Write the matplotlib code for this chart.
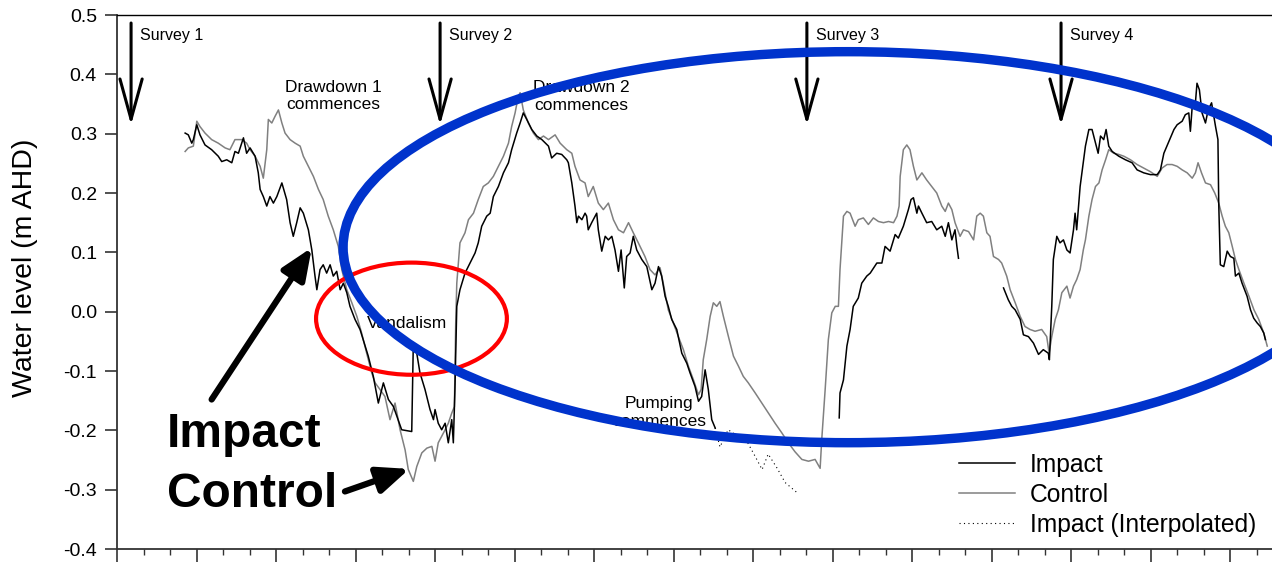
import numpy as np
import matplotlib
matplotlib.use("Agg")
import matplotlib.pyplot as plt
from matplotlib.patches import Ellipse
from matplotlib.ticker import MultipleLocator, FixedLocator, FixedFormatter

plt.rcParams['font.family'] = ['Liberation Sans', 'DejaVu Sans']

nan = float('nan')

# Impact bore (m AHD), days since start of record; NaN marks logger gaps
impact_day = [
    25.7, 26.9, 28.2, 28.8, 30.1, 31.3, 33.2, 35.7, 38.2, 39.5, 41.4, 43.3, 44.5, 45.8,
    47.7, 48.9, 50.2, 52.1, 53.3, 54.0, 55.2, 56.5, 57.7, 59.0, 60.3, 62.2, 64.0, 65.3,
    66.5, 67.8, 69.1, 70.3, 72.2, 73.5, 74.7, 75.4, 76.6, 77.8, 79.1, 80.4, 81.6, 82.9,
    84.2, 85.4, 86.7, 87.9, 89.8, 91.7, 94.8, 96.7, 98.6, 100.5, 102.4, 104.3, 107.4,
    111.2, 111.8, 113.1, 114.3, 116.2, 118.1, 119.4, 120.0, 121.2, 122.5, 123.8, 125.0,
    126.3, 126.9, 127.5, 128.2, 129.4, 131.3, 133.2, 135.1, 136.3, 137.6, 139.5, 140.8,
    142.0, 143.9, 145.8, 147.7, 148.9, 150.8, 152.1, 153.3, 154.6, 156.5, 158.4, 160.3,
    162.8, 164.0, 165.9, 167.8, 169.7, 170.3, 171.6, 172.8, 173.5, 174.1, 175.4, 176.6,
    177.2, 177.8, 179.1, 180.4, 181.0, 181.6, 182.9, 184.2, 185.4, 186.7, 187.9, 189.2,
    190.2, 191.4, 192.3, 193.6, 194.8, 196.1, 198.0, 199.9, 201.8, 203.0, 204.3, 205.5,
    206.8, 208.0, 209.3, 211.2, 213.1, 215.0, 216.2, 218.1, 219.4, 220.6, 221.9, 223.1,
    224.4, 225.7, nan,
    272.5, 272.8, 274.1, 275.4, 276.6, 277.8, 279.7, 281.0, 282.9, 284.2, 286.7, 288.6,
    289.8, 291.7, 293.6, 294.8, 296.7, 298.6, 299.6, 300.5, 301.8, 302.4, 303.7, 305.5,
    307.4, 309.3, 311.2, 312.5, 313.7, 315.0, 316.2, 316.9, 317.5, nan,
    334.5, 336.3, 337.6, 338.9, 340.8, 342.0, 343.9, 345.8, 347.7, 349.5, 351.4, 351.8,
    352.7, 353.3, 354.6, 355.8, 357.1, 358.4, 359.6, 360.9, 361.5, 362.1, 363.4, 364.6,
    365.4, 366.7, 367.9, 369.2, 370.2, 371.1, 372.3, 373.2, 374.2, 375.5, 378.0, 380.5,
    383.0, 384.9, 387.4, 389.9, 392.5, 393.7, 395.0, 396.9, 398.8, 400.0, 401.9, 403.1,
    404.4, 405.0, 405.7, 406.9, 407.5, 408.4, 409.4, 410.7, 411.7, 413.0, 414.5, 415.4,
    415.7, 416.3, 417.6, 418.9, 420.1, 421.4, 422.0, 423.3, 424.5, 426.4, 427.7, 428.9,
    430.2, 431.4, 432.7, 433.3,
]
impact_level = [
    0.301, 0.298, 0.284, 0.290, 0.315, 0.298, 0.281, 0.273, 0.262, 0.253, 0.256, 0.251, 0.270, 0.267,
    0.293, 0.267, 0.276, 0.262, 0.234, 0.206, 0.194, 0.178, 0.194, 0.183, 0.194, 0.217, 0.189, 0.150,
    0.127, 0.150, 0.175, 0.166, 0.138, 0.104, 0.060, 0.037, 0.071, 0.079, 0.065, 0.079, 0.060, 0.068,
    0.037, 0.048, 0.032, 0.009, -0.013, -0.030, -0.075, -0.109, -0.154, -0.120, -0.148, -0.160, -0.199,
    -0.202, -0.053, -0.070, -0.103, -0.131, -0.165, -0.182, -0.165, -0.188, -0.199, -0.188, -0.221,
    -0.182, -0.221, -0.131, 0.009, 0.037, 0.065, 0.082, 0.099, 0.116, 0.144, 0.161, 0.166,
    0.194, 0.211, 0.234, 0.251, 0.273, 0.301, 0.318, 0.335, 0.324, 0.307, 0.296, 0.290,
    0.279, 0.259, 0.267, 0.265, 0.256, 0.251, 0.217, 0.178, 0.150, 0.161, 0.155, 0.166,
    0.161, 0.138, 0.150, 0.161, 0.166, 0.138, 0.102, 0.127, 0.121, 0.127, 0.104, 0.068,
    0.104, 0.040, 0.093, 0.099, 0.127, 0.104, 0.088, 0.076, 0.037, 0.048, 0.076, 0.060,
    0.026, 0.009, -0.013, -0.030, -0.070, -0.087, -0.103, -0.126, -0.151, -0.143, -0.098, -0.131,
    -0.182, -0.196, nan,
    -0.179, -0.137, -0.115, -0.058, -0.030, 0.009, 0.023, 0.048, 0.060, 0.065, 0.082, 0.082,
    0.110, 0.102, 0.130, 0.124, 0.144, 0.172, 0.189, 0.192, 0.166, 0.178, 0.166, 0.150,
    0.152, 0.138, 0.144, 0.127, 0.150, 0.121, 0.138, 0.110, 0.090, nan,
    0.040, 0.020, 0.009, 0.003, -0.013, -0.039, -0.042, -0.053, -0.072, -0.064, -0.070, -0.081,
    0.009, 0.088, 0.127, 0.116, 0.121, 0.104, 0.099, 0.138, 0.166, 0.138, 0.211, 0.251,
    0.279, 0.307, 0.307, 0.284, 0.267, 0.296, 0.290, 0.307, 0.279, 0.270, 0.262, 0.256,
    0.251, 0.239, 0.234, 0.231, 0.231, 0.239, 0.267, 0.287, 0.307, 0.315, 0.321, 0.332,
    0.335, 0.304, 0.346, 0.352, 0.385, 0.374, 0.335, 0.318, 0.340, 0.352, 0.312, 0.290,
    0.183, 0.079, 0.076, 0.102, 0.093, 0.090, 0.060, 0.065, 0.048, 0.026, 0.003, -0.011,
    -0.019, -0.025, -0.036, -0.047,
]

# Impact bore infilled while the logger was out
interp_day = [225.7, 227.5, 230.6, 234.3, 238.1, 240.8, 243.4, 245.7, 249.1, 252.1, 256.6]
interp_level = [-0.196, -0.228, -0.199, -0.210, -0.222, -0.244, -0.266, -0.240, -0.264, -0.288, -0.305]

# Control bore (m AHD)
control_day = [
    25.7, 26.9, 28.8, 30.1, 31.3, 33.2, 35.7, 38.2, 40.8, 42.6, 44.5, 47.1, 48.9, 50.2,
    52.1, 54.0, 55.2, 56.5, 57.1, 58.4, 59.6, 60.9, 62.2, 63.4, 65.3, 67.2, 69.1, 70.3,
    72.2, 74.1, 76.0, 77.8, 79.7, 81.6, 83.5, 84.8, 86.7, 88.6, 90.5, 92.3, 94.2, 96.1,
    97.4, 99.2, 101.1, 103.0, 104.9, 106.8, 108.7, 109.9, 111.8, 113.1, 115.0, 116.9,
    118.8, 120.0, 121.2, 122.5, 123.8, 125.0, 126.3, 127.3, 127.8, 128.2, 129.4, 131.3,
    132.6, 134.5, 136.3, 138.2, 140.1, 142.0, 143.9, 145.8, 147.7, 148.9, 150.2, 151.4,
    152.1, 153.3, 155.2, 157.1, 159.0, 160.9, 162.8, 165.3, 167.2, 169.7, 171.6, 172.8,
    174.7, 176.6, 177.8, 179.7, 181.6, 183.5, 185.4, 187.3, 189.2, 191.1, 193.0, 194.8,
    196.7, 199.2, 201.1, 203.0, 204.9, 206.1, 208.0, 209.9, 211.8, 213.7, 215.6, 217.5,
    219.4, 220.4, 221.2, 222.5, 223.8, 225.0, 226.3, 227.5, 228.8, 230.7, 232.6, 234.5,
    236.3, 238.2, 240.8, 243.3, 245.8, 248.3, 250.8, 253.3, 255.8, 258.4, 260.9, 263.4,
    265.3, 265.9, 267.2, 268.4, 269.7, 271.0, 272.2, 272.8, 274.1, 275.4, 276.6, 278.5,
    279.7, 281.6, 283.5, 285.4, 287.3, 289.2, 291.1, 293.0, 294.3, 295.1, 295.5, 296.7,
    298.0, 299.2, 300.5, 301.8, 303.7, 305.5, 307.4, 309.3, 311.2, 312.5, 313.7, 315.0,
    316.2, 318.1, 319.4, 321.3, 323.2, 324.4, 325.7, 326.9, 328.2, 329.4, 330.7, 332.6,
    333.8, 335.7, 337.0, 338.9, 340.8, 342.6, 344.5, 346.4, 348.9, 350.8, 351.7, 352.7,
    354.0, 355.2, 356.5, 358.4, 359.6, 360.9, 362.1, 363.4, 364.6, 365.4, 366.7, 367.9,
    369.2, 370.5, 371.7, 373.0, 374.2, 376.1, 378.0, 379.9, 382.4, 384.9, 387.4, 389.9,
    392.5, 394.3, 396.2, 398.1, 400.0, 401.9, 403.8, 405.7, 406.9, 407.9, 409.2, 410.7,
    412.6, 414.2, 415.7, 417.0, 418.2, 419.5, 420.8, 422.0, 423.3, 425.2, 427.1, 429.0,
    430.8, 432.7, 434.0,
]
control_level = [
    0.270, 0.276, 0.279, 0.321, 0.312, 0.301, 0.290, 0.284, 0.276, 0.273, 0.290, 0.290, 0.284, 0.273,
    0.262, 0.245, 0.225, 0.273, 0.324, 0.318, 0.329, 0.340, 0.318, 0.301, 0.290, 0.284, 0.279, 0.262,
    0.245, 0.228, 0.206, 0.189, 0.161, 0.138, 0.110, 0.071, 0.037, 0.015, -0.008, -0.036, -0.070, -0.103,
    -0.120, -0.131, -0.143, -0.182, -0.154, -0.199, -0.233, -0.266, -0.286, -0.261, -0.238, -0.230,
    -0.227, -0.252, -0.221, -0.210, -0.199, -0.188, -0.171, -0.160, -0.019, 0.048, 0.116, 0.133,
    0.155, 0.166, 0.189, 0.211, 0.217, 0.228, 0.245, 0.262, 0.284, 0.312, 0.335, 0.363,
    0.369, 0.340, 0.318, 0.301, 0.290, 0.296, 0.290, 0.298, 0.284, 0.273, 0.267, 0.245,
    0.222, 0.217, 0.194, 0.211, 0.183, 0.172, 0.183, 0.155, 0.138, 0.133, 0.150, 0.133,
    0.116, 0.093, 0.071, 0.062, 0.074, 0.048, 0.003, -0.019, -0.042, -0.064, -0.092, -0.115,
    -0.140, -0.131, -0.081, -0.047, -0.008, 0.015, 0.009, 0.017, -0.008, -0.042, -0.075, -0.092,
    -0.109, -0.120, -0.137, -0.154, -0.171, -0.188, -0.204, -0.221, -0.236, -0.249, -0.252, -0.249,
    -0.264, -0.216, -0.131, -0.047, -0.002, 0.009, 0.009, 0.071, 0.161, 0.169, 0.166, 0.144,
    0.155, 0.158, 0.147, 0.158, 0.152, 0.150, 0.152, 0.150, 0.161, 0.178, 0.228, 0.273,
    0.281, 0.273, 0.245, 0.222, 0.234, 0.222, 0.211, 0.200, 0.178, 0.169, 0.183, 0.172,
    0.150, 0.127, 0.138, 0.135, 0.121, 0.161, 0.166, 0.161, 0.133, 0.127, 0.093, 0.088,
    0.082, 0.060, 0.037, 0.015, -0.008, -0.025, -0.030, -0.033, -0.030, -0.042, -0.070, -0.042,
    -0.013, 0.003, 0.032, 0.043, 0.023, 0.043, 0.054, 0.071, 0.104, 0.121, 0.161, 0.189,
    0.211, 0.217, 0.239, 0.256, 0.273, 0.267, 0.265, 0.262, 0.256, 0.248, 0.242, 0.236,
    0.228, 0.242, 0.248, 0.248, 0.245, 0.239, 0.234, 0.225, 0.234, 0.251, 0.234, 0.217,
    0.214, 0.200, 0.183, 0.161, 0.144, 0.133, 0.110, 0.088, 0.071, 0.048, 0.026, 0.003,
    -0.013, -0.036, -0.058,
]

survey_day = [5.3, 121.9, 260.3, 356.2]
survey_labels = ['Survey 1', 'Survey 2', 'Survey 3', 'Survey 4']

y_ticks = [-0.4, -0.3, -0.2, -0.1, 0.0, 0.1, 0.2, 0.3, 0.4, 0.5]
y_tick_labels = ['-0.4', '-0.3', '-0.2', '-0.1', '0.0', '0.1', '0.2', '0.3', '0.4', '0.5']

fig = plt.figure(figsize=(12.72, 5.62), dpi=100)
ax = fig.add_axes([0.092, 0.0231, 0.908, 0.9502])

l_control, = ax.plot(control_day, control_level, color='#808080', lw=1.1, label='Control', zorder=2)
l_impact, = ax.plot(impact_day, impact_level, color='black', lw=1.1, label='Impact', zorder=3)
l_interp, = ax.plot(interp_day, interp_level, color='black', lw=0.8, ls=(0, (1, 3)),
                    label='Impact (Interpolated)', zorder=3)

ax.set_xlim(0, 435.8)
ax.set_ylim(-0.4, 0.5)
ax.xaxis.set_major_locator(MultipleLocator(30))
ax.xaxis.set_minor_locator(MultipleLocator(10))
ax.yaxis.set_major_locator(FixedLocator(y_ticks))
ax.yaxis.set_major_formatter(FixedFormatter(y_tick_labels))
ax.tick_params(axis='x', which='major', direction='out', length=10, width=1.2,
               labelbottom=False, color='#333333')
ax.tick_params(axis='x', which='minor', direction='out', length=4.5, width=1.0,
               color='#333333')
ax.tick_params(axis='y', direction='out', length=8.5, width=1.2, pad=6,
               labelsize=14, color='#333333')
for s in ['left', 'bottom']:
    ax.spines[s].set_linewidth(1.3)
    ax.spines[s].set_color('#333333')
ax.spines['top'].set_linewidth(1.0)
ax.spines['right'].set_visible(False)
ax.set_ylabel('Water level (m AHD)', fontsize=20.5)
ax.yaxis.set_label_coords(-0.0685, 0.527)

# survey arrows
for d, lab in zip(survey_day, survey_labels):
    ax.annotate('', xy=(d, 0.3146), xytext=(d, 0.4865),
                arrowprops=dict(arrowstyle='->,head_length=2.9,head_width=0.8',
                                lw=2.2, color='black', shrinkA=0, shrinkB=0,
                                mutation_scale=10))
    ax.text(d + 3.4, 0.466, lab, fontsize=11.5, ha='left', va='center')

# event notes
note_kw = dict(fontsize=12.5, ha='center', va='center', linespacing=1.2)
ax.text(81.5, 0.3635, 'Drawdown 1\ncommences', **note_kw)
ax.text(175.1, 0.3627, 'Drawdown 2\ncommences', **note_kw)
ax.text(109.3, -0.020, 'Vandalism', **note_kw)
ax.text(204.5, -0.1697, 'Pumping\ncommences', **note_kw)

# bore callouts
ax.text(18.9, -0.2275, 'Impact', fontsize=34.5, fontweight='bold', ha='left', va='baseline')
ax.text(18.9, -0.3287, 'Control', fontsize=34.5, fontweight='bold', ha='left', va='baseline')
ax.annotate('', xy=(73.5, 0.108), xytext=(35.7, -0.148),
            arrowprops=dict(arrowstyle='-|>,head_length=1.9,head_width=0.8',
                            lw=4.5, color='black', shrinkA=0, shrinkB=0,
                            mutation_scale=10), zorder=6)
ax.annotate('', xy=(110.3, -0.265), xytext=(86.0, -0.303),
            arrowprops=dict(arrowstyle='-|>,head_length=1.9,head_width=0.8',
                            lw=4.5, color='black', shrinkA=0, shrinkB=0,
                            mutation_scale=10), zorder=6)

# highlighted periods
ax.add_patch(Ellipse((111.1, -0.0118), 72.0, 0.189, fill=False, edgecolor='red',
                     lw=3.0, zorder=5))
ax.add_patch(Ellipse((275.8, 0.1087), 381.0, 0.659, fill=False, edgecolor='#0033cc',
                     lw=6.8, zorder=6))

leg = ax.legend(handles=[l_impact, l_control, l_interp],
                loc='lower right', bbox_to_anchor=(0.997, 0.0), frameon=False,
                fontsize=17.7, handlelength=2.25, handletextpad=0.62, labelspacing=0.24,
                borderaxespad=0.1)
leg.set_zorder(7)

fig.savefig('out.png', dpi=100)
